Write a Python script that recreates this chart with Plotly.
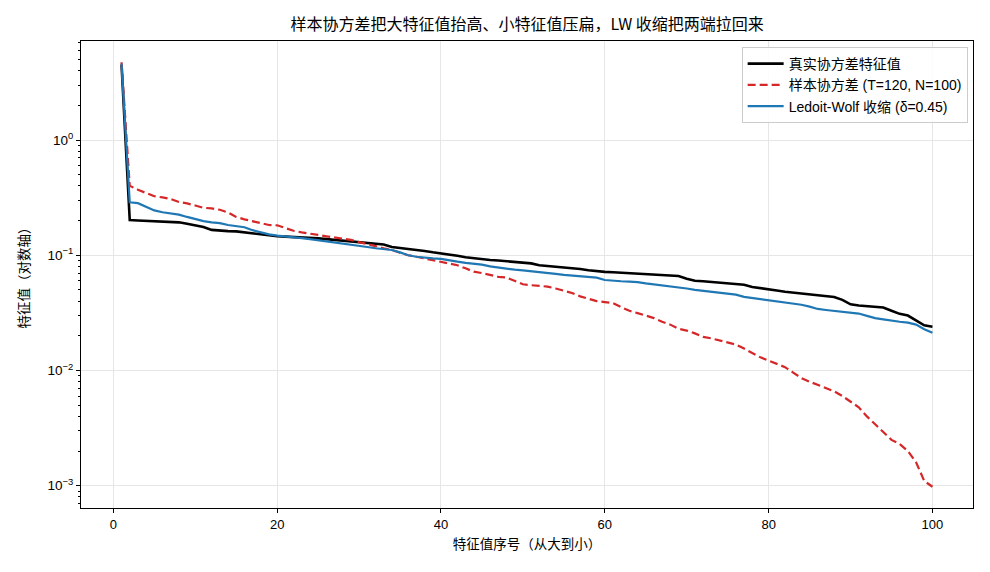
import plotly.graph_objects as go

idx = list(range(1, 101))

true_eig = [
    4.5, 0.202, 0.200, 0.199, 0.197, 0.196, 0.196, 0.193, 0.188, 0.182,
    0.176, 0.166, 0.163, 0.162, 0.161, 0.158, 0.153, 0.150, 0.148, 0.146,
    0.145, 0.144, 0.143, 0.141, 0.140, 0.138, 0.136, 0.134, 0.133, 0.131,
    0.129, 0.127, 0.124, 0.118, 0.116, 0.114, 0.111, 0.109, 0.106, 0.104,
    0.102, 0.099, 0.096, 0.094, 0.092, 0.091, 0.090, 0.089, 0.088, 0.087,
    0.085, 0.082, 0.081, 0.080, 0.079, 0.078, 0.076, 0.074, 0.0725, 0.0718,
    0.0712, 0.0705, 0.0698, 0.0690, 0.0685, 0.0680, 0.0677, 0.0672, 0.0660, 0.0625,
    0.0600, 0.0595, 0.0588, 0.0580, 0.0572, 0.0565, 0.0555, 0.0530, 0.0520, 0.0508,
    0.0495, 0.0482, 0.0474, 0.0465, 0.0458, 0.0450, 0.0443, 0.0435, 0.0410, 0.0375,
    0.0366, 0.0362, 0.0358, 0.0352, 0.0330, 0.0310, 0.0300, 0.0270, 0.0247, 0.0240,
]

sample_eig = [
    4.73, 0.400, 0.370, 0.345, 0.325, 0.318, 0.308, 0.290, 0.282, 0.270,
    0.258, 0.255, 0.248, 0.235, 0.215, 0.205, 0.198, 0.190, 0.183, 0.182,
    0.172, 0.163, 0.158, 0.155, 0.150, 0.146, 0.143, 0.140, 0.136, 0.130,
    0.124, 0.120, 0.115, 0.111, 0.105, 0.100, 0.097, 0.094, 0.091, 0.087,
    0.085, 0.082, 0.077, 0.072, 0.070, 0.067, 0.065, 0.064, 0.060, 0.056,
    0.0550, 0.0545, 0.0535, 0.0515, 0.0495, 0.0470, 0.0440, 0.0420, 0.0400, 0.0392,
    0.0385, 0.0355, 0.0330, 0.0315, 0.0300, 0.0285, 0.0265, 0.0250, 0.0230, 0.0222,
    0.0210, 0.0196, 0.0190, 0.0183, 0.0177, 0.0168, 0.0155, 0.0143, 0.0130, 0.0122,
    0.0115, 0.0107, 0.0096, 0.0086, 0.0080, 0.0075, 0.0070, 0.0066, 0.0060, 0.0054,
    0.0048, 0.0040, 0.0034, 0.0029, 0.0025, 0.0023, 0.0020, 0.0016, 0.0011, 0.00098,
]

lw_eig = [
    4.6, 0.288, 0.283, 0.265, 0.245, 0.236, 0.230, 0.225, 0.215, 0.205,
    0.198, 0.193, 0.190, 0.183, 0.178, 0.175, 0.165, 0.158, 0.152, 0.148,
    0.146, 0.144, 0.141, 0.138, 0.135, 0.132, 0.130, 0.127, 0.125, 0.121,
    0.118, 0.115, 0.113, 0.111, 0.106, 0.100, 0.097, 0.095, 0.094, 0.093,
    0.090, 0.088, 0.086, 0.085, 0.083, 0.080, 0.078, 0.076, 0.075, 0.074,
    0.073, 0.072, 0.071, 0.069, 0.0675, 0.0665, 0.066, 0.065, 0.064, 0.061,
    0.060, 0.0595, 0.0590, 0.0585, 0.0570, 0.0560, 0.0545, 0.0535, 0.0525, 0.0515,
    0.0500, 0.0490, 0.0485, 0.0475, 0.0468, 0.0455, 0.0435, 0.0425, 0.0415, 0.0408,
    0.0400, 0.0392, 0.0384, 0.0372, 0.0358, 0.0342, 0.0335, 0.0330, 0.0322, 0.0316,
    0.0312, 0.0298, 0.0285, 0.0278, 0.0270, 0.0265, 0.0260, 0.0250, 0.0228, 0.0213,
]

x_ticks = [0, 20, 40, 60, 80, 100]
y_ticks = [1, 0.1, 0.01, 0.001]
y_tick_text = ["10<sup>0</sup>", "10<sup>−1</sup>", "10<sup>−2</sup>", "10<sup>−3</sup>"]

FONT = "Liberation Sans, Noto Sans CJK SC, sans-serif"
CJK = "Noto Sans CJK SC, sans-serif"

fig = go.Figure()
fig.add_trace(go.Scatter(x=idx, y=true_eig, mode="lines", name="真实协方差特征值",
                         line=dict(color="#000000", width=2.6)))
fig.add_trace(go.Scatter(x=idx, y=sample_eig, mode="lines", name="样本协方差 (T=120, N=100)",
                         line=dict(color="#d62728", width=2.2, dash="8px,4px")))
fig.add_trace(go.Scatter(x=idx, y=lw_eig, mode="lines", name="Ledoit-Wolf 收缩 (δ=0.45)",
                         line=dict(color="#1f77b4", width=2.2)))

minor_vals = []
for e in [0.0001, 0.001, 0.01, 0.1, 1]:
    for m in range(2, 10):
        minor_vals.append(m * e)

fig.update_layout(
    width=990, height=572,
    margin=dict(l=81, r=17, t=41, b=64),
    paper_bgcolor="white", plot_bgcolor="white",
    font=dict(family=FONT, size=13, color="#000000"),
    title=dict(text="样本协方差把大特征值抬高、小特征值压扁，LW 收缩把两端拉回来",
               x=0.5325, xanchor="center", y=0.958, yanchor="middle",
               font=dict(size=16, family=CJK)),
    showlegend=True,
    legend=dict(x=0.994, y=0.987, xanchor="right", yanchor="top",
                bgcolor="rgba(255,255,255,0.85)", bordercolor="#cccccc", borderwidth=1,
                font=dict(size=14), tracegroupgap=0, itemwidth=36),
)
fig.update_xaxes(
    range=[-3.95, 104.95], tickvals=x_ticks, ticks="outside", ticklen=4, tickcolor="black",
    showline=True, linecolor="black", linewidth=1.2, mirror=True,
    showgrid=True, gridcolor="#e6e6e6", gridwidth=1, zeroline=False,
    title=dict(text="特征值序号（从大到小）", font=dict(size=13.5, family=CJK), standoff=8),
)
fig.update_yaxes(
    type="log", range=[-3.193, 0.859], tickmode="array", tickvals=y_ticks, ticktext=y_tick_text,
    ticks="outside", ticklen=4, tickcolor="black", tickfont=dict(size=13.5),
    minor=dict(tickmode="array", tickvals=minor_vals, ticks="outside", ticklen=2, tickcolor="black", showgrid=False),
    showline=True, linecolor="black", linewidth=1.2, mirror=True,
    showgrid=True, gridcolor="#e6e6e6", gridwidth=1, zeroline=False,
    title=dict(text="特征值（对数轴）", font=dict(size=13.5, family=CJK), standoff=14),
)

fig.write_html("out.html")
